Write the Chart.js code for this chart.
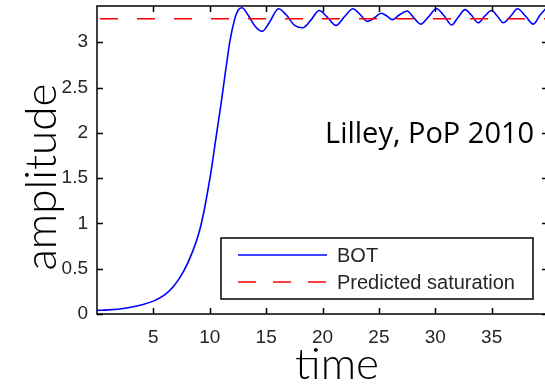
<!DOCTYPE html>
<html>
<head>
<meta charset="utf-8">
<script src="https://cdn.jsdelivr.net/npm/chart.js@4.4.0/dist/chart.umd.min.js"></script>
<style>
  html, body { margin: 0; padding: 0; background: #fff; overflow: hidden; }
  #wrap { width: 548px; height: 385px; }
</style>
</head>
<body>
<div id="wrap"><canvas id="ampChart" width="548" height="385"></canvas></div>
<script>
// BOT amplitude vs time
const times = [
  0, 1, 2, 3, 4, 5, 6, 6.8, 7.7, 8.45, 9.05, 9.5, 9.85, 10.15, 10.5, 11, 11.4, 11.8, 12.2,
  12.5, 12.85, 13.4, 14.0, 14.65, 15.3, 16.1, 16.8, 17.5, 18.25, 19.0, 19.7, 20.4,
  21.2, 22.0, 22.7, 23.3, 24.0, 24.6, 25.2, 25.7, 26.2, 26.8, 27.5, 28.1, 28.7,
  29.4, 30.1, 30.8, 31.45, 32.0, 32.65, 33.2, 33.8, 34.4, 35.0, 35.5, 36.03, 36.7,
  37.3, 38.0, 38.7, 39.3, 40.0
];
const botValues = [
  0.040, 0.045, 0.055, 0.074, 0.102, 0.142, 0.21, 0.305, 0.475, 0.68, 0.90, 1.14,
  1.38, 1.60, 1.90, 2.32, 2.68, 3.02, 3.25,
  3.35, 3.38, 3.30, 3.18, 3.12, 3.22, 3.37, 3.30, 3.19, 3.16, 3.25, 3.35, 3.28,
  3.185, 3.29, 3.37, 3.31, 3.23, 3.27, 3.32, 3.29, 3.25, 3.30, 3.345, 3.27, 3.20,
  3.28, 3.37, 3.29, 3.19, 3.27, 3.36, 3.30, 3.215, 3.29, 3.35, 3.29, 3.215, 3.29,
  3.37, 3.29, 3.20, 3.30, 3.40
];
const saturationLevel = 3.26;
const timeRange = [0, 40];
const ampRange = [0, 3.4];
const xTicks = [5, 10, 15, 20, 25, 30, 35];
const yTicks = [0, 0.5, 1, 1.5, 2, 2.5, 3];
const seriesNames = ['BOT', 'Predicted saturation'];

const tickFont = { family: 'Liberation Sans, Arial, sans-serif', size: 19 };

// box, inward ticks, legend, note and axis titles
const frame = {
  id: 'frame',
  afterDatasetsDraw(chart) {
    const { ctx, chartArea: a, scales: { x, y } } = chart;
    ctx.save();
    ctx.strokeStyle = '#000';
    ctx.lineWidth = 1.5;
    ctx.strokeRect(a.left, a.top, a.right - a.left, a.bottom - a.top);

    ctx.beginPath();
    const tl = 6;
    xTicks.forEach(v => {
      const px = Math.round(x.getPixelForValue(v)) + 0.5;
      ctx.moveTo(px, a.bottom); ctx.lineTo(px, a.bottom - tl);
      ctx.moveTo(px, a.top); ctx.lineTo(px, a.top + tl);
    });
    yTicks.forEach(v => {
      const py = Math.round(y.getPixelForValue(v)) + 0.5;
      ctx.moveTo(a.left, py); ctx.lineTo(a.left + tl, py);
      ctx.moveTo(a.right, py); ctx.lineTo(a.right - tl, py);
    });
    ctx.stroke();

    // legend
    const lx = a.left + 124, ly = a.top + 232, lw = 312, lh = 61;
    ctx.fillStyle = '#fff';
    ctx.fillRect(lx, ly, lw, lh);
    ctx.strokeRect(lx, ly, lw, lh);
    ctx.font = '20px Liberation Sans, Arial, sans-serif';
    ctx.textBaseline = 'middle';
    ctx.textAlign = 'left';
    chart.data.datasets.forEach((ds, i) => {
      const rowY = ly + 17 + i * 27;
      ctx.beginPath();
      ctx.strokeStyle = ds.borderColor;
      ctx.lineWidth = 1.6;
      ctx.setLineDash(ds.borderDash ? [18, 17] : []);
      ctx.moveTo(lx + 17, rowY); ctx.lineTo(lx + 106, rowY);
      ctx.stroke();
      ctx.setLineDash([]);
      ctx.fillStyle = '#262626';
      ctx.fillText(ds.label, lx + 116, rowY + 1);
    });

    // citation note
    ctx.fillStyle = '#000';
    ctx.font = '29px Open Sans, sans-serif';
    ctx.textBaseline = 'alphabetic';
    ctx.fillText('Lilley, PoP 2010', 325, 143);

    // axis titles
    ctx.font = '300 44px Lato, sans-serif';
    ctx.fillStyle = '#000';
    ctx.textAlign = 'center';
    ctx.fillText('time', 337, 379);
    ctx.translate(56, (a.top + a.bottom) / 2 + 17);
    ctx.rotate(-Math.PI / 2);
    ctx.fillText('amplitude', 0, 0);
    ctx.restore();
  }
};

new Chart(document.getElementById('ampChart'), {
  type: 'line',
  data: {
    datasets: [{
      label: seriesNames[0],
      data: times.map((t, i) => ({ x: t, y: botValues[i] })),
      borderColor: '#0000ff',
      borderWidth: 1.6,
      pointRadius: 0,
      cubicInterpolationMode: 'monotone',
      order: 1
    }, {
      label: seriesNames[1],
      data: [{ x: timeRange[0], y: saturationLevel }, { x: timeRange[1], y: saturationLevel }],
      borderColor: '#ff0000',
      borderWidth: 1.6,
      borderDash: [18, 19],
      borderDashOffset: -3,
      pointRadius: 0,
      order: 0
    }]
  },
  options: {
    responsive: false,
    devicePixelRatio: 1,
    animation: false,
    layout: { padding: { top: 6, right: 0, left: 0, bottom: 0 } },
    plugins: { legend: { display: false }, tooltip: { enabled: false } },
    scales: {
      x: {
        type: 'linear',
        min: timeRange[0],
        max: timeRange[1],
        grid: { display: false, drawTicks: false },
        border: { display: false },
        afterBuildTicks: s => { s.ticks = xTicks.map(v => ({ value: v })); },
        afterFit: s => { s.height = 71; s.paddingLeft = 0; s.paddingRight = 0; },
        ticks: { font: tickFont, color: '#262626', padding: 12, maxRotation: 0 }
      },
      y: {
        min: ampRange[0],
        max: ampRange[1],
        grid: { display: false, drawTicks: false },
        border: { display: false },
        afterBuildTicks: s => { s.ticks = yTicks.map(v => ({ value: v })); },
        afterFit: s => { s.width = 97; s.paddingTop = 0; s.paddingBottom = 0; },
        ticks: { font: tickFont, color: '#262626', padding: 9, callback: v => String(v) }
      }
    }
  },
  plugins: [frame]
});
</script>
</body>
</html>
